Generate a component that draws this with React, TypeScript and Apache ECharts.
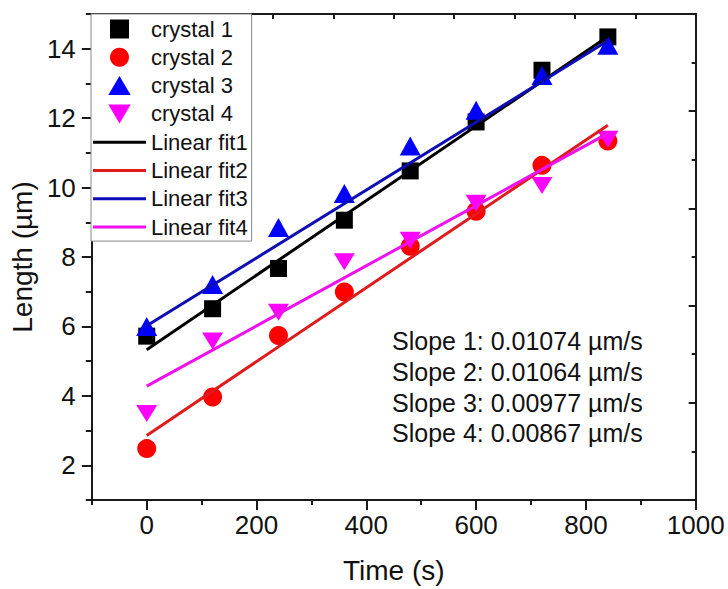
import React, { useEffect, useRef } from "react";
import * as echarts from "echarts";

// Growth measurements: time (s) vs crystal length (µm)
const times = [0, 120, 240, 360, 480, 600, 720, 840];
const crystal1 = [5.72, 6.51, 7.67, 9.06, 10.48, 11.89, 13.38, 14.34];
const crystal2 = [2.48, 3.97, 5.74, 6.99, 8.31, 9.32, 10.64, 11.34];
const crystal3 = [6.0, 7.21, 8.85, 9.83, 11.2, 12.23, 13.23, 14.1];
const crystal4 = [3.49, 5.58, 6.41, 7.86, 8.48, 9.55, 10.06, 11.39];

// Linear fits: slope (µm/s) and intercept (µm), drawn over the measured span
const fitSlopes = [0.01074, 0.01064, 0.00977, 0.00867];
const fitIntercepts = [5.33, 2.86, 6.02, 4.28];
const fitSpan = [0, 840];

const crystalNames = ["crystal 1", "crystal 2", "crystal 3", "crystal 4"];
const fitNames = ["Linear fit1", "Linear fit2", "Linear fit3", "Linear fit4"];

// Axis ticks
const xMajorTicks = [0, 200, 400, 600, 800, 1000];
const xMinorTicks = [-100, 100, 300, 500, 700, 900];
const yMajorTicks = [2, 4, 6, 8, 10, 12, 14];
const yMinorTicks = [1, 3, 5, 7, 9, 11, 13, 15];

const FONT = 'Arial, "Liberation Sans", sans-serif';
const AXIS = "#1a1a1a";
const markerColors = ["#000000", "#ff0000", "#0000ff", "#ff00ff"];
const lineColors = ["#000000", "#e01b1b", "#0d0db4", "#ee11ee"];
const squarePath = "path://M0,0L10,0L10,10L0,10Z";
const upTriangle = "path://M10,0L20,17L0,17Z";
const downTriangle = "path://M0,0L20,0L10,17Z";
const legendLine = "path://M0,0L53,0L53,3L0,3Z";
const markerSymbols = ["rect", "circle", upTriangle, downTriangle];
const legendIcons = [squarePath, "circle", upTriangle, downTriangle];
const markerSizes: any[] = [17, 19, [21, 19], [21, 17]];

export default function App() {
  const ref = useRef<HTMLDivElement>(null);

  useEffect(() => {
    if (!ref.current) return;
    const chart = echarts.init(ref.current, null, { renderer: "svg" });
    const crystals = [crystal1, crystal2, crystal3, crystal4];

    const scatterSeries = crystals.map((vals, i) => ({
      type: "scatter",
      name: crystalNames[i],
      xAxisIndex: 0,
      yAxisIndex: 0,
      symbol: markerSymbols[i],
      symbolSize: markerSizes[i],
      itemStyle: { color: markerColors[i], opacity: 1 },
      data: times.map((t, k) => [t, vals[k]]),
      z: 3,
    }));

    const fitSeries = fitSlopes.map((s, i) => ({
      type: "line",
      name: fitNames[i],
      xAxisIndex: 0,
      yAxisIndex: 0,
      symbol: "none",
      showSymbol: false,
      lineStyle: { color: lineColors[i], width: 3 },
      itemStyle: { color: lineColors[i] },
      data: fitSpan.map((t) => [t, fitIntercepts[i] + s * t]),
      z: 4,
    }));

    const slopeTexts = fitSlopes.map((s, i) => ({
      type: "text",
      left: 392,
      top: 328.5 + i * 30.8,
      style: {
        text: `Slope ${i + 1}: ${s.toFixed(5)} µm/s`,
        fontSize: 25,
        fontFamily: FONT,
        fill: "#111",
      },
    }));

    chart.setOption({
      animation: false,
      backgroundColor: "#ffffff",
      grid: { left: 90.7, right: 32.3, top: 14, bottom: 88.3, containLabel: false },
      xAxis: [
        {
          type: "value",
          position: "bottom",
          min: -100,
          max: 1000,
          name: "Time (s)",
          nameLocation: "middle",
          nameGap: 56,
          nameTextStyle: { fontSize: 28, fontFamily: FONT, color: "#111" },
          axisLine: { show: true, onZero: false, lineStyle: { color: AXIS, width: 2 } },
          axisTick: { show: true, customValues: xMajorTicks, length: 10, lineStyle: { color: AXIS, width: 2 } },
          axisLabel: {
            customValues: xMajorTicks,
            formatter: (v: number) => String(v),
            fontSize: 26,
            fontFamily: FONT,
            color: "#111",
            margin: 12,
          },
          splitLine: { show: false },
        },
        {
          type: "value",
          position: "bottom",
          min: -100,
          max: 1000,
          axisLine: { show: false, onZero: false },
          axisTick: { show: true, customValues: xMinorTicks, length: 5, lineStyle: { color: AXIS, width: 2 } },
          axisLabel: { show: false },
          splitLine: { show: false },
        },
        {
          type: "value",
          position: "top",
          min: 0,
          max: 10,
          interval: 1,
          axisLine: { show: true, onZero: false, lineStyle: { color: AXIS, width: 2 } },
          axisTick: { show: true, inside: true, length: 5, lineStyle: { color: AXIS, width: 2 } },
          axisLabel: { show: false },
          splitLine: { show: false },
        },
      ],
      yAxis: [
        {
          type: "value",
          position: "left",
          min: 1,
          max: 15,
          name: "Length (µm)",
          nameLocation: "middle",
          nameGap: 46,
          nameTextStyle: { fontSize: 28, fontFamily: FONT, color: "#111" },
          axisLine: { show: true, onZero: false, lineStyle: { color: AXIS, width: 2 } },
          axisTick: { show: true, customValues: yMajorTicks, length: 10, lineStyle: { color: AXIS, width: 2 } },
          axisLabel: {
            customValues: yMajorTicks,
            formatter: (v: number) => String(v),
            fontSize: 26,
            fontFamily: FONT,
            color: "#111",
            margin: 16,
          },
          splitLine: { show: false },
        },
        {
          type: "value",
          position: "left",
          min: 1,
          max: 15,
          axisLine: { show: false, onZero: false },
          axisTick: { show: true, customValues: yMinorTicks, length: 6, lineStyle: { color: AXIS, width: 2 } },
          axisLabel: { show: false },
          splitLine: { show: false },
        },
        {
          type: "value",
          position: "right",
          min: 0,
          max: 10,
          interval: 2,
          axisLine: { show: true, onZero: false, lineStyle: { color: AXIS, width: 2 } },
          axisTick: { show: true, inside: true, length: 7, lineStyle: { color: AXIS, width: 2 } },
          minorTick: { show: true, splitNumber: 2, length: 4, lineStyle: { color: AXIS, width: 2 } },
          axisLabel: { show: false },
          splitLine: { show: false },
        },
      ],
      legend: {
        orient: "vertical",
        left: 91,
        top: 14,
        itemWidth: 53,
        itemHeight: 19,
        itemGap: 6.3,
        padding: [4, 4, 3, 2],
        borderColor: "#8a8a8a",
        borderWidth: 1,
        backgroundColor: "#ffffff",
        symbolKeepAspect: true,
        textStyle: { fontSize: 22, fontFamily: FONT, color: "#111", lineHeight: 22 },
        data: [
          ...crystalNames.map((name, i) => ({ name, icon: legendIcons[i] })),
          ...fitNames.map((name) => ({ name, icon: legendLine })),
        ],
      },
      graphic: slopeTexts,
      series: [...scatterSeries, ...fitSeries],
    });

    return () => chart.dispose();
  }, []);

  return (
    <div
      ref={ref}
      style={{ position: "absolute", left: 0, top: 0, width: 728, height: 589 }}
    />
  );
}
